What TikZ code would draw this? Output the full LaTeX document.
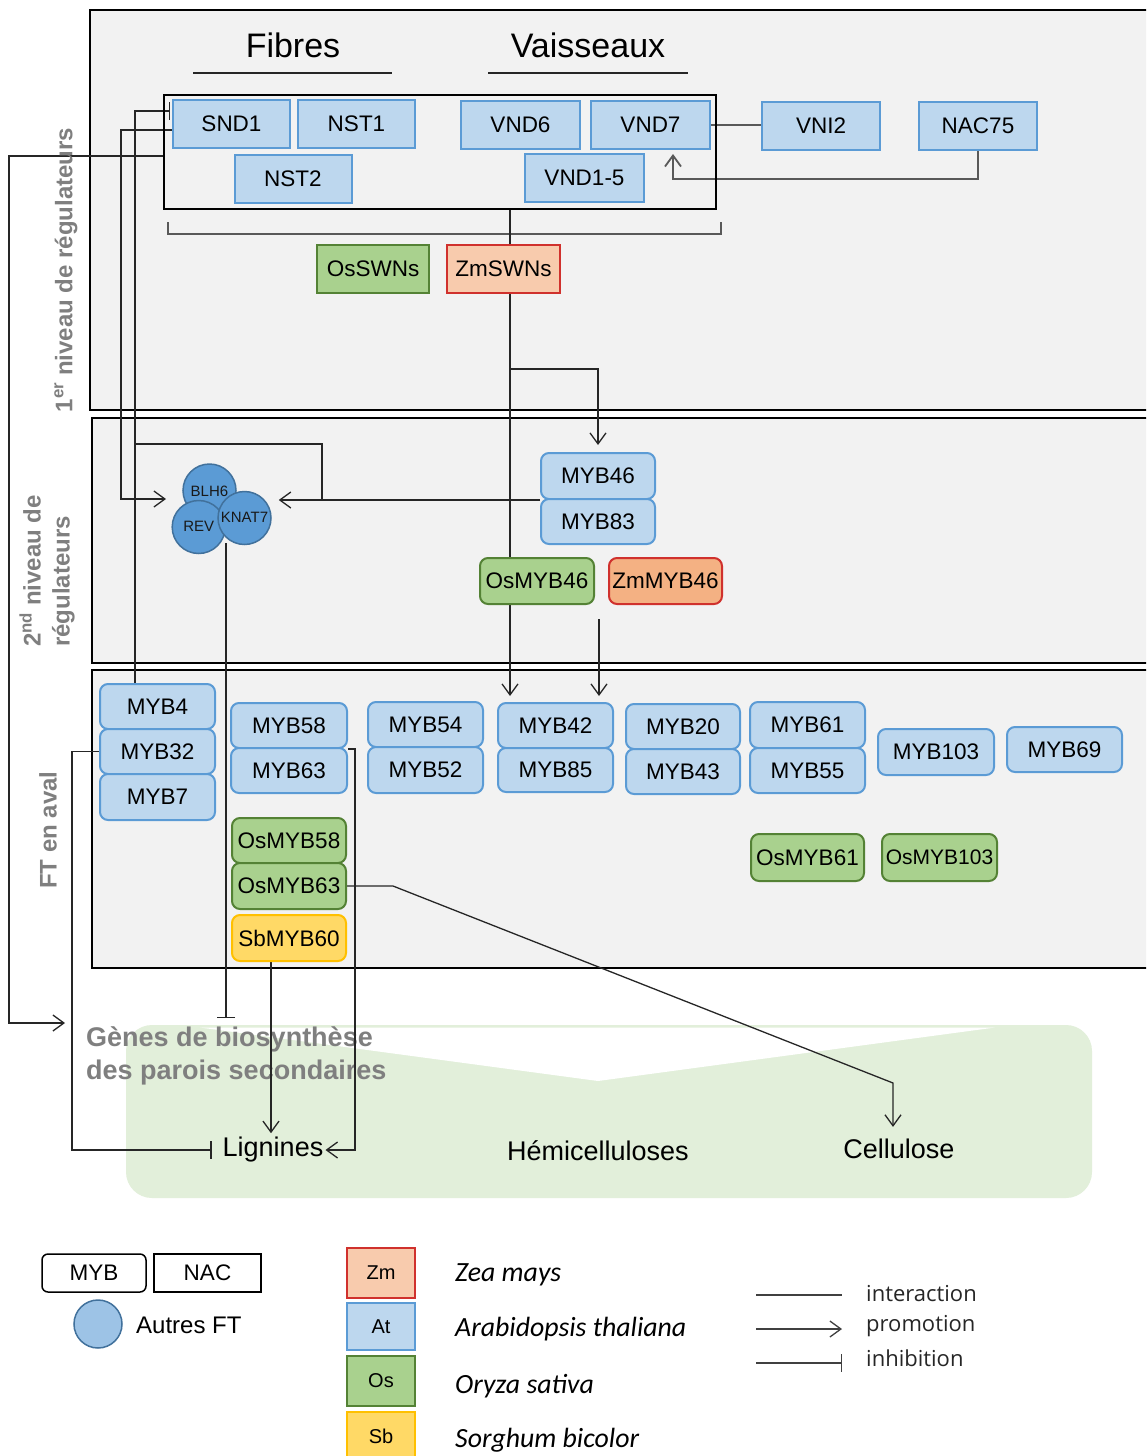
\documentclass[tikz,border=0pt]{standalone}
\usepackage{fontspec}
\setmainfont{Liberation Sans}
\newfontfamily\carl{Carlito}
\newfontfamily\osans{Open Sans}
\usetikzlibrary{arrows.meta,calc}
\definecolor{panel}{HTML}{F2F2F2}
\definecolor{atfill}{HTML}{BDD7EE}
\definecolor{atdraw}{HTML}{5B9BD5}
\definecolor{osfill}{HTML}{A9D18E}
\definecolor{osdraw}{HTML}{548235}
\definecolor{zmfill}{HTML}{F8CBAD}
\definecolor{zmfilltwo}{HTML}{F4B183}
\definecolor{zmdraw}{HTML}{D0312D}
\definecolor{sbfill}{HTML}{FFD966}
\definecolor{sbdraw}{HTML}{FFC000}
\definecolor{circfill}{HTML}{5B9BD5}
\definecolor{circdraw}{HTML}{41719C}
\definecolor{lgcirc}{HTML}{9DC3E6}
\definecolor{greenarea}{HTML}{E2EFDA}
\definecolor{labgray}{HTML}{7F7F7F}
\definecolor{ink}{HTML}{262626}
\definecolor{gline}{HTML}{595959}
\pgfdeclarelayer{bg}
\pgfdeclarelayer{edges}
\pgfsetlayers{bg,edges,main}
\begin{document}
\begin{tikzpicture}[x=1pt,y=-1pt,
  >={Straight Barb[length=11pt,width=16pt]},
  base/.style={inner sep=0pt, line width=2pt, font=\fontsize{22.5}{27}\selectfont, text=black},
  nacat/.style={base, draw=atdraw, fill=atfill, minimum width=117pt, minimum height=48pt},
  nacos/.style={nacat, draw=osdraw, fill=osfill, minimum width=112pt},
  naczm/.style={nacat, draw=zmdraw, fill=zmfill, minimum width=113pt},
  mybat/.style={base, draw=atdraw, fill=atfill, rounded corners=8pt, minimum width=115pt, minimum height=45pt},
  mybos/.style={mybat, draw=osdraw, fill=osfill},
  mybzm/.style={mybat, draw=zmdraw, fill=zmfilltwo},
  mybsb/.style={mybat, draw=sbdraw, fill=sbfill},
  circ/.style={circle, draw=circdraw, fill=circfill, line width=1.5pt, minimum size=53pt, inner sep=0pt},
  circtxt/.style={inner sep=0pt, font=\fontsize{15}{18}\selectfont, text=black!90},
  sidelab/.style={rotate=90, text=labgray, inner sep=0pt, align=left, font=\bfseries\fontsize{24}{29}\selectfont},
  header/.style={inner sep=0pt, font=\fontsize{34}{40}\selectfont},
  prod/.style={inner sep=0pt, font=\fontsize{27}{32}\selectfont},
  conn/.style={draw=ink, line width=1.3pt},
  promo/.style={conn, ->},
  inh/.style={conn, -{Bar[width=18pt]}},
  gconn/.style={draw=gline, line width=1.8pt},
  species/.style={base, minimum width=68pt, minimum height=48pt, font=\fontsize{20}{24}\selectfont},
  spname/.style={anchor=west, inner sep=0pt, font=\carl\itshape\fontsize{27.8}{32}\selectfont},
  lglab/.style={anchor=west, inner sep=0pt, font=\osans\fontsize{22}{26}\selectfont, text=black!85}
]
\useasboundingbox (0,0) rectangle (1146,1456);

% ---------- background layer ----------
\begin{pgfonlayer}{bg}
\clip (0,0) rectangle (1146,1456);
\fill[white] (0,0) rectangle (1146,1456);
\draw[line width=2.2pt, fill=panel] (90,10) rectangle (1170,410);
\draw[line width=2.2pt, fill=panel] (92,418) rectangle (1170,663);
\draw[line width=2.2pt, fill=panel] (92,670) rectangle (1170,968);
\fill[greenarea, rounded corners=26pt] (126,1025) rectangle (1092,1198);
\fill[white] (200,1027.5) -- (995,1027.5) -- (598,1081) -- cycle;
\node[anchor=north west, align=left, text=labgray, inner sep=0pt,
      font=\bfseries\fontsize{27}{33}\selectfont] (Genes) at (86,1026)
      {Gènes de biosynthèse\\des parois secondaires};
\end{pgfonlayer}

% ---------- headers ----------
\node[header] (Fib) at (293,45) {Fibres};
\node[header] (Vai) at (588,45) {Vaisseaux};
\draw[ink, line width=2pt] (193,73) -- (392,73);
\draw[ink, line width=2pt] (488,73) -- (688,73);

% ---------- side labels ----------
\node[sidelab] (L1) at (66,270) {1\textsuperscript{er} niveau de régulateurs};
\node[sidelab] (L2) at (47,571) {2\textsuperscript{nd} niveau de\\régulateurs};
\node[sidelab] (L3) at (48,830) {FT en aval};

% ---------- first level ----------
\node[base, draw=black, line width=2pt, minimum width=552pt, minimum height=114pt] (nacbox) at (440,152) {};
\node[nacat] (SND1) at (231.5,124) {SND1};
\node[nacat] (NST1) at (356.5,124) {NST1};
\node[nacat] (NST2) at (293,179) {NST2};
\node[nacat, minimum width=119pt] (VND6) at (520.5,125) {VND6};
\node[nacat, minimum width=119pt] (VND7) at (650.5,125) {VND7};
\node[nacat, minimum width=119pt] (VND15) at (584.5,177.5) {VND1-5};
\node[nacat, minimum width=118pt] (VNI2) at (821,126) {VNI2};
\node[nacat, minimum width=118pt] (NAC75) at (978,126) {NAC75};
\node[nacos] (OsSWNs) at (373,269) {OsSWNs};
\node[naczm] (ZmSWNs) at (503.5,268.5) {ZmSWNs};

% ---------- second level ----------
\node[mybat, minimum width=114pt, minimum height=46pt] (MYB46) at (598,476) {MYB46};
\node[mybat, minimum width=114pt] (MYB83) at (598,521.5) {MYB83};
\node[mybos, minimum width=114pt, minimum height=46pt] (OsMYB46) at (537,581) {OsMYB46};
\node[mybzm, minimum width=113pt, minimum height=46pt] (ZmMYB46) at (665.5,581) {ZmMYB46};
\node[circ] (BLH6) at (209.5,490.5) {};
\node[circ] (REV) at (198.7,527) {};
\node[circ] (KNAT7) at (244.5,518) {};
\node[circtxt] at (209.5,491) {BLH6};
\node[circtxt] at (198.7,526) {REV};
\node[circtxt] at (244.5,517) {KNAT7};

% ---------- downstream TFs ----------
\node[mybat] (MYB4) at (157.5,706.5) {MYB4};
\node[mybat] (MYB32) at (157.5,751.5) {MYB32};
\node[mybat, minimum height=46pt] (MYB7) at (157.5,797) {MYB7};
\node[mybat, minimum width=116pt] (MYB58) at (289,725.5) {MYB58};
\node[mybat, minimum width=116pt] (MYB63) at (289,770.5) {MYB63};
\node[mybos, minimum width=114pt] (OsMYB58) at (289,840.5) {OsMYB58};
\node[mybos, minimum width=114pt, minimum height=46pt] (OsMYB63) at (289,886) {OsMYB63};
\node[mybsb, minimum width=114pt, minimum height=46pt] (SbMYB60) at (289,938) {SbMYB60};
\node[mybat] (MYB54) at (425.5,724.5) {MYB54};
\node[mybat, minimum height=46pt] (MYB52) at (425.5,770) {MYB52};
\node[mybat] (MYB42) at (555.5,725.5) {MYB42};
\node[mybat, minimum height=44pt] (MYB85) at (555.5,770) {MYB85};
\node[mybat, minimum width=114pt] (MYB20) at (683,726.5) {MYB20};
\node[mybat, minimum width=114pt] (MYB43) at (683,771.5) {MYB43};
\node[mybat, minimum height=46pt] (MYB61) at (807.5,725) {MYB61};
\node[mybat] (MYB55) at (807.5,770.5) {MYB55};
\node[mybat, minimum width=116pt, minimum height=46pt] (MYB103) at (936,752) {MYB103};
\node[mybat] (MYB69) at (1064.5,749.5) {MYB69};
\node[mybos, minimum width=113pt, minimum height=47pt] (OsMYB61) at (807.5,857.5) {OsMYB61};
\node[mybos, minimum width=115pt, minimum height=47pt, font=\fontsize{21}{25}\selectfont] (OsMYB103) at (939.5,857.5) {OsMYB103};

% ---------- products ----------
\node[prod] (Lig) at (273,1150) {Lignines};
\node[prod] (Hemi) at (598,1151) {Hémicelluloses};
\node[prod] (Cell) at (899,1149) {Cellulose};

% ---------- junction coordinates ----------
\coordinate (jA) at (510,209);
\coordinate (jB) at (510,369);
\coordinate (j1) at (135,444);
\coordinate (j2) at (322,499);
\coordinate (cL) at (166,499);
\coordinate (cB) at (226,543);
\coordinate (zA) at (599,619);
\coordinate (cc1) at (893,1083);

% ---------- connectors ----------
\begin{pgfonlayer}{edges}
\draw[gconn] (VND7.east) -- (VND7.east -| VNI2.west);
\draw[gconn,->] (NAC75.south) -- ++(0,28) -| ($(VND7.south)+(22.5,4)$);
\draw[gconn, line width=1.5pt] (168,222) -- (168,234) -- (721,234) -- (721,222);
\draw[promo, shorten >=6pt] (jA) -- (jA |- MYB42.north);
\draw[promo, shorten >=7pt] (jB) -| (MYB46.north);
\draw[promo, shorten >=7pt] (MYB46.south west) -- (MYB46.south west -| KNAT7.east);
\draw[inh] ($(MYB4.north)+(-22.5,0)$) |- ($(SND1.west)+(-2,-13)$);
\draw[conn] (j1) -| (j2);
\draw[promo] ($(SND1.west)+(0,6)$) -- ++(-51,0) |- (cL);
\draw[promo] ($(nacbox.west)+(0,4)$) -- ++(-154,0) |- ($(Genes.north west)+(-21,-3)$);
\draw[inh] (cB) -- ($(cB |- Genes.north)+(0,-8)$);
\draw[promo, shorten >=6pt] (zA) -- (zA |- MYB42.north);
\draw[inh] (MYB32.west) -- ++(-27,0) |- ($(Lig.west)+(-11,0)$);
\draw[promo] (MYB58.south east) -- ++(7,0) |- ($(Lig.east)+(2,0)$);
\draw[promo] ($(SbMYB60.south)+(-18,0)$) -- ($(SbMYB60.south |- Lig.north)+(-18,-4)$);
\draw[promo, shorten >=12pt] (OsMYB63.east) -- ++(46,0) -- (cc1) -- (cc1 |- Cell.north);
\end{pgfonlayer}

% ---------- legend ----------
\node[base, draw=black, line width=1.5pt, rounded corners=6pt, minimum width=104pt, minimum height=38pt] (lgMYB) at (94,1273) {MYB};
\node[base, draw=black, line width=1.5pt, minimum width=107pt, minimum height=38pt] (lgNAC) at (207.5,1273) {NAC};
\node[circle, draw=circdraw, fill=lgcirc, line width=1.5pt, minimum size=48pt, inner sep=0pt] (lgC) at (98,1324) {};
\node[anchor=west, inner sep=0pt, font=\fontsize{24}{28}\selectfont] (lgCt) at (136,1325) {Autres FT};

\node[species, draw=zmdraw, fill=zmfill, minimum height=50pt] (spZm) at (381,1273) {Zm};
\node[species, draw=atdraw, fill=atfill, minimum height=47pt] (spAt) at (381,1326.5) {At};
\node[species, draw=osdraw, fill=osfill, minimum height=50pt] (spOs) at (381,1381) {Os};
\node[species, draw=sbdraw, fill=sbfill] (spSb) at (381,1436) {Sb};
\node[spname] (nZm) at (455,1275) {Zea mays};
\node[spname] (nAt) at (455,1329) {Arabidopsis thaliana};
\node[spname] (nOs) at (455,1386) {Oryza sativa};
\node[spname] (nSb) at (455,1440) {Sorghum bicolor};

\coordinate (la1) at (756,1295); \coordinate (lb1) at (842,1295);
\coordinate (la2) at (756,1329); \coordinate (lb2) at (842,1329);
\coordinate (la3) at (756,1363); \coordinate (lb3) at (842,1363);
\draw[conn, draw=black!75] (la1) -- (lb1);
\draw[conn, draw=black!75, ->] (la2) -- (lb2);
\draw[conn, draw=black!75, -{Bar[width=18pt]}] (la3) -- (lb3);
\node[lglab] (t1) at (866,1294) {interaction};
\node[lglab] (t2) at (866,1326) {promotion};
\node[lglab] (t3) at (866,1358) {inhibition};
\end{tikzpicture}
\end{document}
